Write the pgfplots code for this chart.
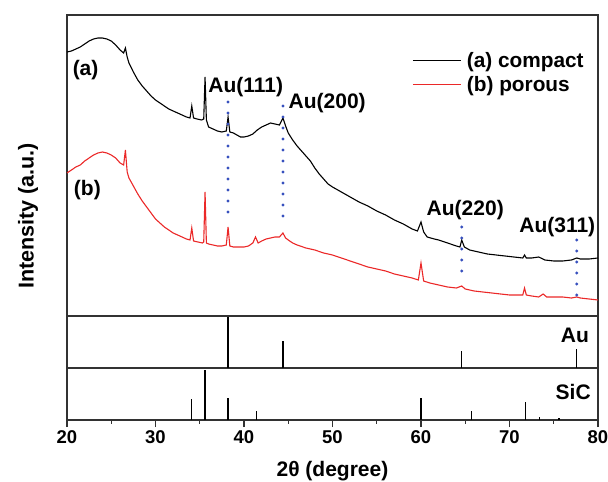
\documentclass[border=0pt]{standalone}
\usepackage{fontspec}
\setmainfont{Liberation Sans}
\usepackage{pgfplots}
\pgfplotsset{compat=1.18}
\usepackage{pgfplotstable}
\definecolor{axgray}{RGB}{50,50,50}
\definecolor{xrdred}{RGB}{235,40,40}
\definecolor{dotblue}{RGB}{55,80,190}

\pgfplotstableread{
tt I
20.0 264
20.5 265
21.0 267
21.5 269
22.0 272
22.5 275
23.0 277
23.5 278
24.0 278
24.5 277
25.0 275
25.5 271
26.0 266
26.4 263
26.6 268
26.8 259
27.0 253
27.5 244
28.0 236
28.5 230
29.0 225
29.5 220
30.0 216
30.5 213
31.0 210
31.5 207
32.0 205
32.5 203
33.0 201
33.5 199
33.9 198
34.1 210
34.3 198
34.7 197
35.2 196
35.45 197
35.6 239
35.75 196
36.0 189
36.5 187
37.0 185
37.5 184
38.0 185
38.2 199
38.4 184
38.8 183
39.2 181
39.6 179
40.0 179
40.5 180
41.0 182
41.5 186
42.0 189
42.5 191
43.0 193
43.5 192
44.0 191
44.4 198
44.7 190
45.0 183
45.5 176
46.0 170
46.5 165
47.0 160
47.5 155
48.0 148
48.5 142
49.0 137
49.5 132
50.0 129
51.0 124
52.0 119
53.0 114
54.0 110
55.0 105
56.0 101
57.0 96
58.0 92
59.0 87
59.6 85
60.0 94
60.3 84
60.7 79
61.5 77
62.0 76
63.0 73
64.0 70
64.4 69
64.6 76
64.9 69
65.5 66
66.5 64
67.5 62
68.5 61
69.5 60
70.5 59
71.5 58
71.7 61
71.9 58
72.5 58
73.3 59
74.0 56
75.0 55
76.0 55
77.0 56
77.6 58
78.0 57
79.0 57
80.0 58
}\compact

\pgfplotstableread{
tt I
20.0 143
20.5 146
21.0 149
21.5 151
22.0 155
22.5 158
23.0 161
23.5 163
24.0 164
24.5 163
25.0 161
25.5 158
26.0 153
26.4 151
26.6 166
26.8 144
27.0 138
27.5 130
28.0 122
28.5 115
29.0 109
29.5 103
30.0 97
30.5 93
31.0 89
31.5 86
32.0 83
32.5 81
33.0 79
33.5 77
33.9 76
34.1 88
34.3 75
34.8 74
35.3 73
35.45 74
35.6 124
35.75 73
36.0 72
36.5 71
37.0 70
37.5 70
38.0 71
38.2 89
38.4 70
38.8 69
39.5 69
40.0 69
40.5 70
41.0 73
41.3 79
41.6 73
42.0 75
42.5 77
43.0 78
43.5 79
44.0 79
44.4 83
44.7 78
45.0 76
45.5 73
46.0 71
47.0 68
48.0 66
49.0 63
50.0 61
51.0 58
52.0 55
53.0 52
54.0 49
55.0 47
56.0 45
57.0 42
58.0 40
59.0 38
59.7 36
60.0 53
60.3 35
61.0 33
62.0 31
63.0 29
64.0 28
64.6 30
65.0 27
66.0 25
67.0 24
68.0 23
69.0 22
70.0 21
71.0 21
71.5 21
71.7 28
71.9 21
72.5 20
73.3 19
73.8 22
74.2 19
75.0 19
76.0 19
77.0 18
77.6 19
78.0 18
79.0 17
80.0 16
}\porous

\begin{document}
\begin{tikzpicture}
\useasboundingbox (-67pt,-62pt) rectangle (541pt,420pt);
\pgfplotsset{
  panel/.style={scale only axis, width=531pt, xmin=20, xmax=80,
    axis line style={axgray, line width=1.3pt}, clip=false,
    ytick=\empty, anchor=south west},
}
% SiC panel
\begin{axis}[panel, at={(0pt,0pt)}, height=52pt, ymin=0, ymax=52,
  xtick={20,30,...,80}, minor xtick={25,35,...,75},
  tick align=outside, xtick pos=left,
  major tick length=7pt, minor tick length=3.5pt,
  tick style={axgray, line width=1.2pt},
  /pgf/number format/assume math mode=true,
  xticklabel style={font=\bfseries\fontsize{18.5}{18.5}\selectfont},
  xlabel={2θ (degree)},
  xlabel style={font=\bfseries\fontsize{21}{21}\selectfont, at={(axis description cs:0.5,0)}, anchor=center, yshift=-51pt},
]
\addplot[ycomb, black, line width=1.2pt] coordinates {
(34.1,21) (35.6,50) (38.2,21.5) (41.4,9) (60.0,22) (65.7,9) (71.8,18) (73.4,3) (75.6,2.3)};
\node[anchor=east, inner sep=0pt, font=\bfseries\fontsize{21}{21}\selectfont] at (axis cs:79.2,28.5) {SiC};
\end{axis}
% Au panel
\begin{axis}[panel, at={(0pt,52pt)}, height=52pt, ymin=0, ymax=52, xtick=\empty]
\addplot[ycomb, black, line width=1.2pt] coordinates {
(38.2,51) (44.4,26.5) (64.6,17) (77.6,19)};
\node[anchor=east, inner sep=0pt, font=\bfseries\fontsize{21}{21}\selectfont] at (axis cs:79.0,33) {Au};
\end{axis}
% main panel
\begin{axis}[panel, at={(0pt,104pt)}, height=301pt, ymin=0, ymax=301, xtick=\empty,
  ylabel={Intensity (a.u.)},
  ylabel style={font=\bfseries\fontsize{21.5}{21.5}\selectfont, at={(axis description cs:-0.0734,0.332)}, anchor=center},
  legend cell align=left,
  legend style={draw=none, fill=none, inner sep=0pt, at={(0.650,0.809)}, anchor=west,
    font=\bfseries\fontsize{20.8}{20.8}\selectfont, nodes={inner sep=1.5pt}, row sep=4pt,
    /tikz/every odd column/.style={column sep=4pt}},
  legend image code/.code={\draw[#1] (0pt,0pt) -- (48pt,0pt);},
]
\addplot[black, line width=1.1pt] table[x=tt, y=I] {\compact};
\addlegendentry{(a) compact}
\addplot[xrdred, line width=1.1pt] table[x=tt, y=I] {\porous};
\addlegendentry{(b) porous}
\pgfplotsset{dots/.style={dotblue, line width=3.2pt, line cap=round, dash pattern=on 0pt off 11pt, forget plot}}
\addplot[dots] coordinates {(38.2,214) (38.2,94)};
\addplot[dots] coordinates {(44.4,210) (44.4,91)};
\addplot[dots] coordinates {(64.6,89) (64.6,34)};
\addplot[dots] coordinates {(77.6,76) (77.6,20)};
\begin{scope}[font=\bfseries\fontsize{21}{21}\selectfont]
\node at (axis cs:40.2,229) {Au(111)};
\node at (axis cs:49.4,213) {Au(200)};
\node at (axis cs:65.0,106) {Au(220)};
\node at (axis cs:75.4,89) {Au(311)};
\node at (axis cs:22.1,246) {(a)};
\node at (axis cs:22.3,126) {(b)};
\end{scope}
\end{axis}
\end{tikzpicture}
\end{document}
